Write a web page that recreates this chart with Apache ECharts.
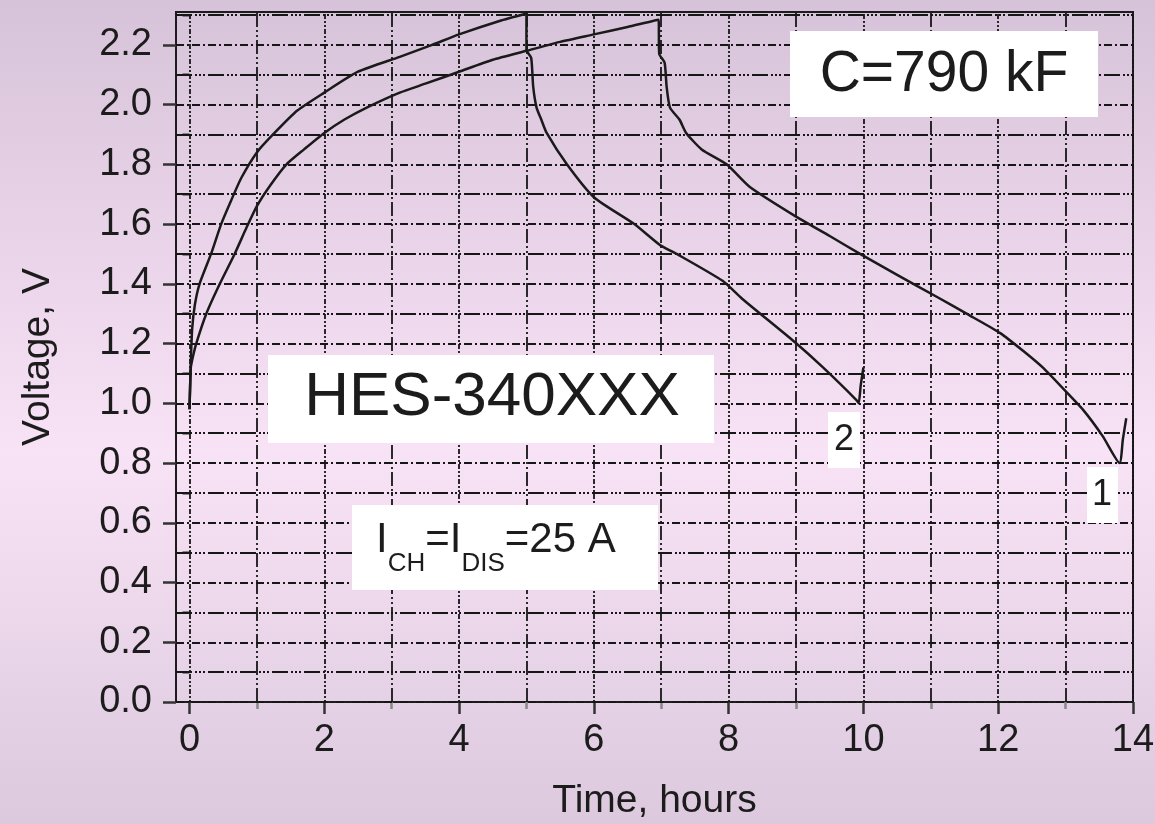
<!DOCTYPE html>
<html><head><meta charset="utf-8">
<script src="https://cdn.jsdelivr.net/npm/echarts@6/dist/echarts.min.js"></script>
<style>html,body{margin:0;padding:0;width:1155px;height:824px;overflow:hidden}#c{width:1155px;height:824px}</style>
</head><body><div id="c"></div>
<script>
// ---- data ----
const xTickLabels = [0, 2, 4, 6, 8, 10, 12, 14];
const xMinorTicks = [1, 3, 5, 7, 9, 11, 13];
const yTickLabels = [0, 0.2, 0.4, 0.6, 0.8, 1.0, 1.2, 1.4, 1.6, 1.8, 2.0, 2.2];
const yMinorTicks = [0.1, 0.3, 0.5, 0.7, 0.9, 1.1, 1.3, 1.5, 1.7, 1.9, 2.1, 2.3];

// Curve 1: charge to ~7 h, discharge to 0.8 V
const curve1Time = [0.0, 0.01, 0.02, 0.05, 0.10, 0.25, 0.45, 0.67, 0.85, 1.0, 1.2, 1.44, 1.7, 2.0, 2.3, 2.63, 3.12, 3.5, 4.0, 4.5, 5.0, 5.5, 6.0, 6.5, 6.96,
  6.97, 7.05, 7.08, 7.13, 7.27, 7.37, 7.6, 7.97, 8.31, 9.0, 9.5, 9.95, 10.5, 11.1, 11.53, 12.03, 12.4, 12.66, 12.96, 13.26, 13.55, 13.8, 13.85, 13.9];
const curve1Volt = [0.98, 1.06, 1.12, 1.155, 1.20, 1.30, 1.40, 1.50, 1.59, 1.66, 1.73, 1.80, 1.85, 1.905, 1.95, 1.99, 2.04, 2.07, 2.11, 2.15, 2.18, 2.21, 2.235, 2.26, 2.284,
  2.17, 2.14, 2.06, 1.99, 1.95, 1.905, 1.85, 1.80, 1.725, 1.625, 1.56, 1.50, 1.43, 1.355, 1.30, 1.235, 1.17, 1.12, 1.05, 0.978, 0.89, 0.80, 0.88, 0.95];

// Curve 2: charge to 5 h, discharge to 1.0 V
const curve2Time = [0.0, 0.01, 0.02, 0.04, 0.08, 0.15, 0.32, 0.47, 0.62, 0.77, 1.0, 1.24, 1.6, 2.0, 2.5, 3.12, 3.6, 4.0, 4.6, 5.0,
  5.0, 5.07, 5.1, 5.15, 5.22, 5.3, 5.6, 6.0, 6.6, 6.98, 7.23, 7.91, 8.2, 8.98, 9.4, 9.9, 9.93, 9.96, 10.0];
const curve2Volt = [0.98, 1.06, 1.14, 1.25, 1.33, 1.40, 1.50, 1.60, 1.68, 1.755, 1.84, 1.90, 1.98, 2.04, 2.11, 2.16, 2.20, 2.235, 2.28, 2.305,
  2.183, 2.157, 2.06, 1.99, 1.95, 1.905, 1.80, 1.69, 1.60, 1.53, 1.50, 1.41, 1.35, 1.205, 1.12, 1.01, 1.0, 1.06, 1.12];

const curveLabels = ['1', '2'];

// ---- styling ----
const FONT = 'Liberation Sans, Arial, Helvetica, sans-serif';
const INK = '#1c1c1c';
const GRID_INK = '#161616';
const dashVEven = [2, 2, 2, 2, 5, 2];
const dashVOdd = [14, 3, 2, 3, 2, 3];
const dashHMajor = [8, 3, 2, 3];
const dashHMinor = [16, 3, 2, 2, 2, 2, 2, 3];

function zip(a, b) { return a.map((v, i) => [v, b[i]]); }

const gridLines = []
  .concat(xTickLabels.map(v => ({ xAxis: v, lineStyle: { color: GRID_INK, width: 1.8, type: dashVEven } })))
  .concat(xMinorTicks.map(v => ({ xAxis: v, lineStyle: { color: GRID_INK, width: 1.8, type: dashVOdd } })))
  .concat(yTickLabels.map(v => ({ yAxis: v, lineStyle: { color: GRID_INK, width: 1.8, type: dashHMajor } })))
  .concat(yMinorTicks.map(v => ({ yAxis: v, lineStyle: { color: GRID_INK, width: 1.8, type: dashHMinor } })));

const chart = echarts.init(document.getElementById('c'), null, { renderer: 'canvas' });

const option = {
  animation: false,
  backgroundColor: {
    type: 'linear', x: 0, y: 0, x2: 0, y2: 1,
    colorStops: [
      { offset: 0, color: '#d7c3d9' },
      { offset: 0.55, color: '#f8e2f6' },
      { offset: 1, color: '#dcc9dd' }
    ]
  },
  textStyle: { fontFamily: FONT },
  grid: {
    left: 176, right: 22, top: 12, bottom: 122,
    outerBoundsMode: 'none', containLabel: false,
    show: true, borderColor: INK, borderWidth: 2, backgroundColor: 'transparent'
  },
  xAxis: [{
    type: 'value', min: -0.2, max: 14,
    name: 'Time, hours', nameLocation: 'middle', nameGap: 80,
    nameTextStyle: { fontSize: 39, color: INK, fontFamily: FONT },
    axisLine: { show: true, onZero: false, lineStyle: { color: INK, width: 2 } },
    axisTick: { show: true, customValues: xTickLabels, length: 12, lineStyle: { color: '#333', width: 2.5 } },
    axisLabel: { show: true, customValues: xTickLabels, margin: 20, fontSize: 38, color: INK, fontFamily: FONT,
      formatter: v => String(Math.round(v)) },
    splitLine: { show: false }
  }, {
    type: 'value', min: -0.2, max: 14, position: 'bottom',
    axisLine: { show: false },
    axisTick: { show: true, customValues: xMinorTicks, length: 7, lineStyle: { color: '#888', width: 2.5 } },
    axisLabel: { show: false },
    splitLine: { show: false }
  }],
  yAxis: [{
    type: 'value', min: 0, max: 2.31,
    name: 'Voltage, V', nameLocation: 'middle', nameGap: 118, nameRotate: 90,
    nameTextStyle: { fontSize: 39, color: INK, fontFamily: FONT },
    axisLine: { show: true, onZero: false, lineStyle: { color: INK, width: 2 } },
    axisTick: { show: true, customValues: yTickLabels, length: 13, lineStyle: { color: '#333', width: 2.5 } },
    axisLabel: { show: true, customValues: yTickLabels, margin: 24, fontSize: 38, color: INK, fontFamily: FONT,
      formatter: v => v.toFixed(1) },
    splitLine: { show: false }
  }, {
    type: 'value', min: 0, max: 2.31, position: 'left',
    axisLine: { show: false },
    axisTick: { show: true, customValues: yMinorTicks, length: 7, lineStyle: { color: '#666', width: 2.5 } },
    axisLabel: { show: false },
    splitLine: { show: false }
  }],
  series: [
    {
      name: 'grid', type: 'line', data: [], z: 1, silent: true, xAxisIndex: 0, yAxisIndex: 0,
      markLine: {
        silent: true, symbol: ['none', 'none'], label: { show: false }, animation: false,
        emphasis: { disabled: true },
        data: gridLines
      }
    },
    {
      name: curveLabels[0], type: 'line', data: zip(curve1Time, curve1Volt), z: 5,
      showSymbol: false, smooth: 0.2, lineStyle: { color: '#1a1a1a', width: 2.5, join: 'round' }
    },
    {
      name: curveLabels[1], type: 'line', data: zip(curve2Time, curve2Volt), z: 5,
      showSymbol: false, smooth: 0.2, lineStyle: { color: '#1a1a1a', width: 2.5, join: 'round' }
    }
  ],
  graphic: [
    { type: 'rect', z: 20, shape: { x: 790, y: 31, width: 308, height: 86 }, style: { fill: '#ffffff' } },
    { type: 'text', z: 21, x: 944, y: 75, style: { text: 'C=790 kF', font: '57px ' + FONT, fill: INK, align: 'center', verticalAlign: 'middle' } },
    { type: 'rect', z: 20, shape: { x: 268, y: 355, width: 446, height: 88 }, style: { fill: '#ffffff' } },
    { type: 'text', z: 21, x: 492, y: 398, style: { text: 'HES-340XXX', font: '62px ' + FONT, fill: INK, align: 'center', verticalAlign: 'middle' } },
    { type: 'rect', z: 20, shape: { x: 352, y: 505, width: 306, height: 85 }, style: { fill: '#ffffff' } },
    { type: 'text', z: 21, x: 376, y: 519, style: {
        text: '{m|I}{s|CH}{m|=I}{s|DIS}{m|=25 A}',
        fill: INK,
        rich: {
          m: { fontSize: 42, fontFamily: FONT, lineHeight: 43, verticalAlign: 'top', fill: INK },
          s: { fontSize: 26, fontFamily: FONT, lineHeight: 27, verticalAlign: 'top', padding: [32, 0, 0, 0], fill: INK }
        }
    } },
    { type: 'rect', z: 20, shape: { x: 828, y: 412, width: 32, height: 56 }, style: { fill: '#ffffff' } },
    { type: 'text', z: 21, x: 844, y: 440, style: { text: curveLabels[1], font: '36px ' + FONT, fill: INK, align: 'center', verticalAlign: 'middle' } },
    { type: 'rect', z: 20, shape: { x: 1087, y: 467, width: 31, height: 56 }, style: { fill: '#ffffff' } },
    { type: 'text', z: 21, x: 1102, y: 495, style: { text: curveLabels[0], font: '36px ' + FONT, fill: INK, align: 'center', verticalAlign: 'middle' } }
  ]
};
chart.setOption(option);
</script>
</body></html>
